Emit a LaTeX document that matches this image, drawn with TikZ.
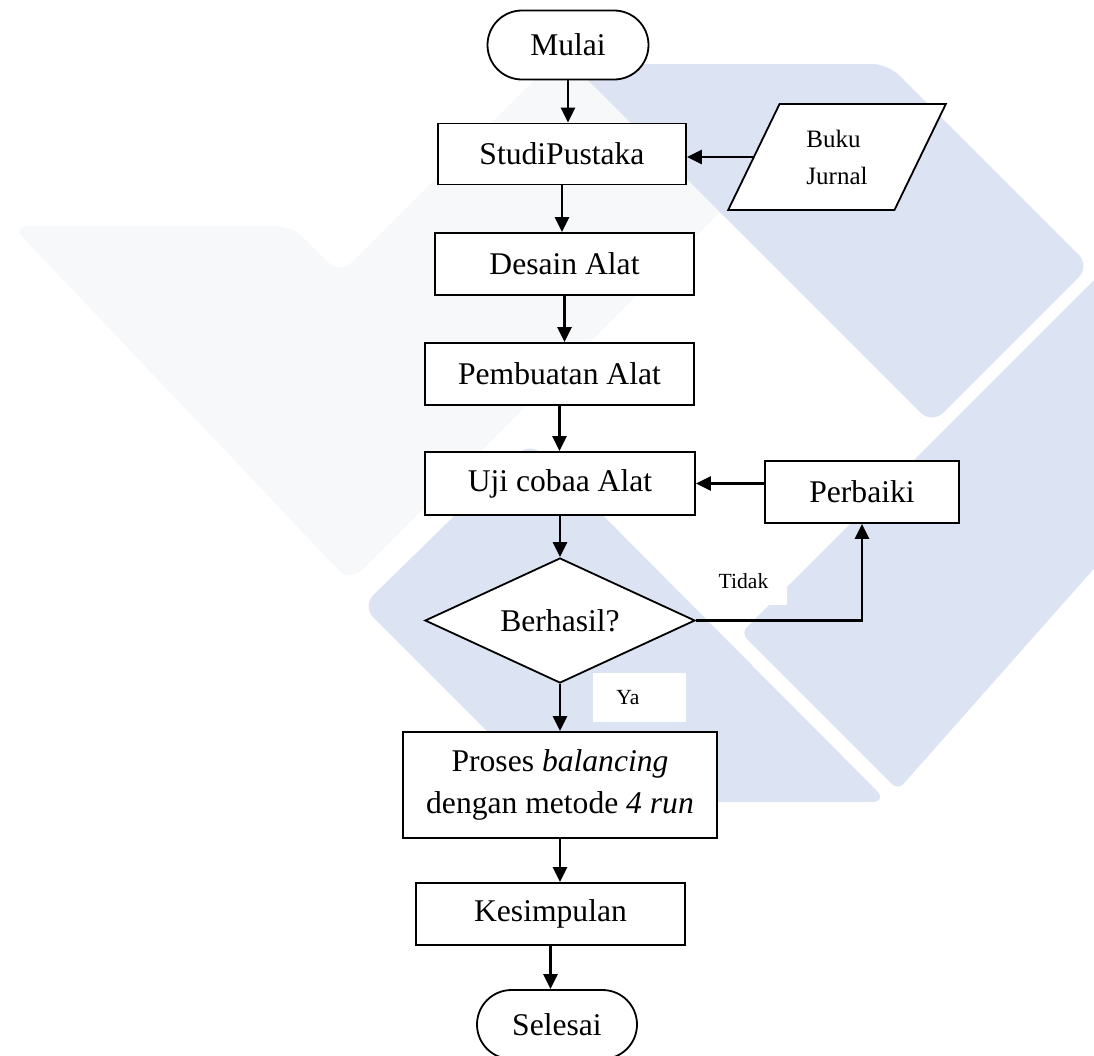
\documentclass[tikz,border=0pt]{standalone}
\usepackage{fontspec}
\setmainfont{Liberation Serif}
\usetikzlibrary{shapes.geometric,shapes.misc,arrows.meta}

\definecolor{wmblue}{RGB}{220,227,242}
\definecolor{wmgrey}{RGB}{247,248,250}

\begin{document}
\begin{tikzpicture}[x=0.5pt,y=-0.5pt,
    box/.style={draw, fill=white, line width=0.9pt, inner sep=2pt, font=\fontsize{15.8}{19}\selectfont},
    term/.style={box, rounded rectangle},
    decision/.style={box, diamond, aspect=2.16, inner sep=0pt},
    io/.style={draw, fill=white, line width=0.9pt, trapezium, trapezium left angle=63.9,
        trapezium right angle=116.1, trapezium stretches=true, align=left,
        font=\fontsize{12.5}{18.5}\selectfont},
    lbl/.style={fill=white, inner sep=0pt, font=\fontsize{10.8}{13}\selectfont},
    arr/.style={line width=1.3pt, -{Triangle[length=7.5pt,width=7pt]}}
]
    \useasboundingbox (0,0) rectangle (1094,1056);

    % Watermark
    \begin{scope}
        \clip (0,0) rectangle (1094,1056);
        \fill[wmgrey, rounded corners=8pt] (12,226) -- (292,226) -- (340,274) -- (548,66)
            -- (654,66) -- (760,172) -- (350,582) -- cycle;
        \fill[wmblue, rounded corners=8pt] (572,64) -- (888,64) -- (1090,266) -- (932,424) -- cycle;
        \fill[wmblue, rounded corners=4pt] (1300,74) -- (741,633) -- (898,790) -- (1300,336) -- cycle;
        \fill[wmblue, rounded corners=8pt] (530,442) -- (362,606) -- (558,802) -- (888,802) -- cycle;
    \end{scope}

    % Flow
    \node[term, minimum width=84.5pt, minimum height=34.5pt] (mulai) at (568,45) {Mulai};
    \node[box, minimum width=124pt, minimum height=30.5pt] (studi) at (562,154) {StudiPustaka};
    \node[io, minimum width=109.5pt, minimum height=53pt] (buku) at (837,157) {Buku\\Jurnal};
    \node[box, minimum width=129.5pt, minimum height=31pt] (desain) at (564.5,264) {Desain Alat};
    \node[box, minimum width=134.5pt, minimum height=31pt] (buat) at (559.5,374) {Pembuatan Alat};
    \node[box, minimum width=135pt, minimum height=31.5pt] (uji) at (560,483.5) {Uji cobaa Alat};
    \node[box, minimum width=97pt, minimum height=31pt] (perbaiki) at (862,492) {Perbaiki};
    \node[decision, minimum width=135pt, minimum height=62.5pt] (cek) at (560,620.5) {Berhasil?};
    \node[box, minimum width=157pt, minimum height=53pt, align=center,
        font=\fontsize{15.8}{21}\selectfont] (proses) at (560,785)
        {Proses \textit{balancing}\\dengan metode \textit{4 run}};
    \node[box, minimum width=134.5pt, minimum height=31pt] (simpul) at (550.5,914) {Kesimpulan};
    \node[term, minimum width=84pt, minimum height=34.5pt] (selesai) at (557,1024.5) {Selesai};

    % Labels
    \node[lbl, minimum width=43.5pt, minimum height=24pt] (tidak) at (743.5,581) {Tidak};
    \node[lbl, anchor=west, inner xsep=11.5pt, text width=23.5pt, minimum height=24.5pt] (ya)
        at (593,697.5) {Ya};

    % Connectors
    \draw[arr] (mulai.south) -- (mulai.south |- studi.north);
    \draw[arr] (buku.west) -- (buku.west -| studi.east);
    \draw[arr] (studi.south) -- (studi.south |- desain.north);
    \draw[arr] (desain.south) -- (desain.south |- buat.north);
    \draw[arr] (buat.south) -- (buat.south |- uji.north);
    \draw[arr] (uji.south) -- (uji.south |- cek.north);
    \draw[arr] (perbaiki.west |- uji.east) -- (uji.east);
    \draw[arr] (cek.east) -| (perbaiki.south);
    \draw[arr] (cek.south) -- (cek.south |- proses.north);
    \draw[arr] (proses.south) -- (proses.south |- simpul.north);
    \draw[arr] (simpul.south) -- (simpul.south |- selesai.north);
\end{tikzpicture}
\end{document}
